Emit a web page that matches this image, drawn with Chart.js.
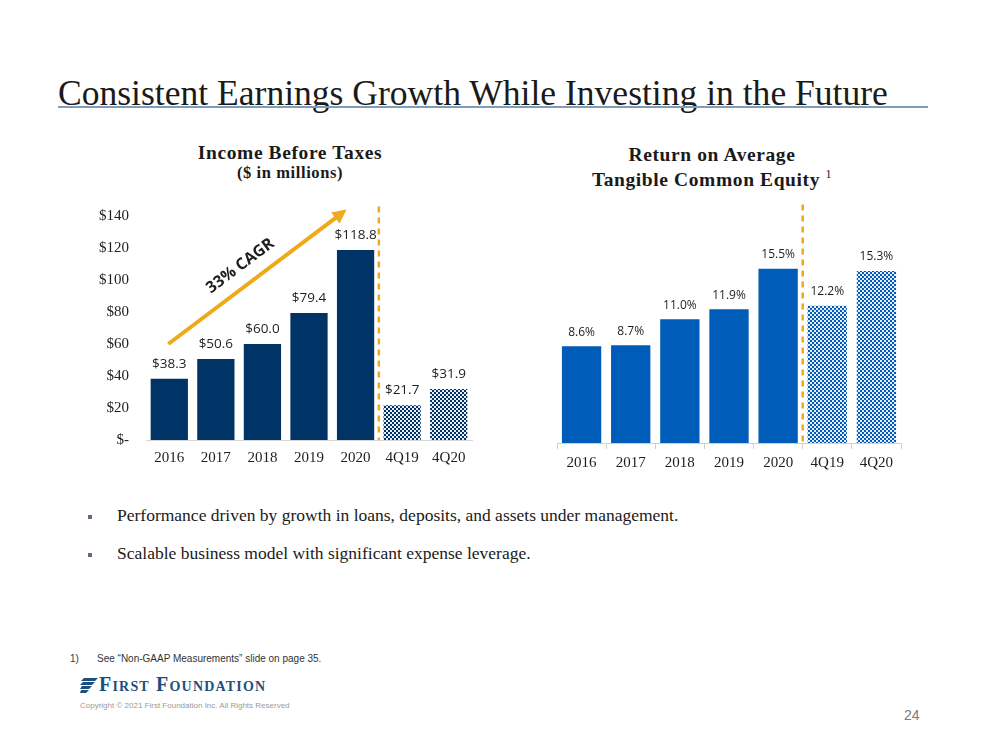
<!DOCTYPE html>
<html>
<head>
<meta charset="utf-8">
<script src="https://cdn.jsdelivr.net/npm/chart.js@4.4.1/dist/chart.umd.min.js"></script>
<style>
  body { margin: 0; width: 1000px; height: 750px; background: #fff; position: relative; overflow: hidden;
         font-family: "Liberation Serif", serif; color: #1a1a1a; }
  .abs { position: absolute; }
  #title { left: 58px; top: 76px; font-size: 35px; line-height: 35px; white-space: nowrap; transform-origin: 0 0; }
  #rule { left: 58px; top: 106px; width: 870px; height: 2px; background: #7d9dba; }
  .ctitle { font-weight: bold; text-align: center; white-space: nowrap; letter-spacing: 0.6px; }
  .bullet { left: 88px; width: 4px; height: 4px; background: #5b6b80; }
  .btext { left: 117px; font-size: 17.5px; white-space: nowrap; }
  canvas { position: absolute; }
</style>
</head>
<body>
<div id="title" class="abs">Consistent Earnings Growth While Investing in the Future</div>
<div id="rule" class="abs"></div>

<div class="abs ctitle" style="left:170px;width:240px;top:142px;font-size:19.5px;">Income Before Taxes</div>
<div class="abs ctitle" style="left:170px;width:240px;top:163px;font-size:16.5px;">($ in millions)</div>
<div class="abs ctitle" style="left:560px;width:304px;top:144px;font-size:19.5px;">Return on Average</div>
<div class="abs ctitle" style="left:560px;width:304px;top:167px;font-size:19.5px;">Tangible Common Equity <sup style="font-size:12px;font-weight:normal;">1</sup></div>

<canvas id="incomeChart" style="left:80px;top:190px;"></canvas>
<canvas id="rotceChart" style="left:540px;top:190px;"></canvas>

<div class="abs bullet" style="top:515px;"></div>
<div class="abs btext" style="top:505px;">Performance driven by growth in loans, deposits, and assets under management.</div>
<div class="abs bullet" style="top:553px;"></div>
<div class="abs btext" style="top:543px;">Scalable business model with significant expense leverage.</div>

<div class="abs" style="left:70px;top:653px;font:10px 'Liberation Sans',sans-serif;color:#333;">1)</div>
<div class="abs" style="left:97px;top:653px;font:10px 'Liberation Sans',sans-serif;color:#333;white-space:nowrap;">See “Non-GAAP Measurements” slide on page 35.</div>

<svg class="abs" style="left:80px;top:678px;" width="18" height="16" viewBox="0 0 18 16">
  <path d="M4 0 H18 L15 3 H1 Z" fill="#1d4f7c"/>
  <path d="M3 4 H15 L12 7 H0 Z" fill="#1d4f7c"/>
  <path d="M2 8 H12 L9 11 H0 Z" fill="#1d4f7c"/>
  <path d="M1 12 H9 L6 15 H0 Z" fill="#1d4f7c"/>
</svg>
<div class="abs" style="left:99px;top:673px;font-family:'Liberation Serif',serif;font-weight:bold;font-size:20px;font-variant:small-caps;color:#1d4f7c;white-space:nowrap;letter-spacing:1.2px;">First Foundation</div>
<div class="abs" style="left:80px;top:701px;font:8px 'Liberation Sans',sans-serif;color:#9a9a9a;white-space:nowrap;">Copyright © 2021 First Foundation Inc. All Rights Reserved</div>
<div class="abs" style="left:904px;top:707px;font:14px 'Liberation Sans',sans-serif;color:#7a7a7a;">24</div>

<script>
// ---- data ----
const periods = ['2016', '2017', '2018', '2019', '2020', '4Q19', '4Q20'];
const incomeValues = [38.3, 50.6, 60.0, 79.4, 118.8, 21.7, 31.9];   // $ millions
const rotceValues = [8.6, 8.7, 11.0, 11.9, 15.5, 12.2, 15.3];       // percent
const incomeTickStep = 20;
const incomeMax = 140;
const rotceMax = 20;
const cagrLabel = '33% CAGR';
const cagrFrom = 60;     // arrow start value, y axis
const cagrTo = 144;      // arrow end value, y axis
const annualCount = 5;   // first five bars are full years, rest are quarters

const navy = '#003466';
const blue = '#005cb9';
const gold = '#eeaa1a';

// fit title width like the slide
const t = document.getElementById('title');
t.style.transform = 'scaleX(' + (830 / t.offsetWidth) + ')';

function checker(ctx, color) {
  const pc = document.createElement('canvas');
  pc.width = 4; pc.height = 4;
  const p = pc.getContext('2d');
  p.fillStyle = '#e6edf7';
  p.fillRect(0, 0, 4, 4);
  p.fillStyle = color;
  p.fillRect(0, 0, 2, 2);
  p.fillRect(2, 2, 2, 2);
  return ctx.createPattern(pc, 'repeat');
}

function sizeCanvas(id, w, h) {
  const c = document.getElementById(id);
  c.width = w; c.height = h;
  c.style.width = w + 'px'; c.style.height = h + 'px';
  return c;
}

// value labels above bars
function valueLabels(fmt, font, gap) {
  return {
    id: 'valueLabels',
    afterDatasetsDraw(chart) {
      const ctx = chart.ctx;
      const meta = chart.getDatasetMeta(0);
      ctx.save();
      ctx.font = font;
      ctx.fillStyle = '#1e1e1e';
      ctx.textAlign = 'center';
      ctx.textBaseline = 'middle';
      meta.data.forEach((bar, i) => {
        ctx.fillText(fmt(chart.data.datasets[0].data[i]), bar.x, bar.y - gap);
      });
      ctx.restore();
    }
  };
}

// dashed divider between years and quarters
function divider(topValue) {
  return {
    id: 'divider',
    afterDraw(chart) {
      const x = chart.scales.x, y = chart.scales.y;
      const px = (x.getPixelForValue(annualCount - 1) + x.getPixelForValue(annualCount)) / 2;
      const ctx = chart.ctx;
      ctx.save();
      ctx.strokeStyle = gold;
      ctx.lineWidth = 2.5;
      ctx.setLineDash([6, 5]);
      ctx.beginPath();
      ctx.moveTo(px, y.getPixelForValue(topValue));
      ctx.lineTo(px, y.getPixelForValue(0));
      ctx.stroke();
      ctx.restore();
    }
  };
}

const cagrArrow = {
  id: 'cagrArrow',
  afterDraw(chart) {
    const x = chart.scales.x, y = chart.scales.y;
    const x0 = x.getPixelForValue(0) - 1, y0 = y.getPixelForValue(cagrFrom);
    const x1 = x.getPixelForValue(annualCount - 1) - 9, y1 = y.getPixelForValue(cagrTo);
    const ang = Math.atan2(y1 - y0, x1 - x0);
    const ctx = chart.ctx;
    ctx.save();
    ctx.strokeStyle = gold;
    ctx.fillStyle = gold;
    ctx.lineWidth = 4;
    const head = 14;
    ctx.beginPath();
    ctx.moveTo(x0, y0);
    ctx.lineTo(x1 - Math.cos(ang) * head * 0.8, y1 - Math.sin(ang) * head * 0.8);
    ctx.stroke();
    ctx.beginPath();
    ctx.moveTo(x1, y1);
    ctx.lineTo(x1 - head * Math.cos(ang) + 7 * Math.sin(ang), y1 - head * Math.sin(ang) - 7 * Math.cos(ang));
    ctx.lineTo(x1 - head * Math.cos(ang) - 7 * Math.sin(ang), y1 - head * Math.sin(ang) + 7 * Math.cos(ang));
    ctx.closePath();
    ctx.fill();
    // label
    const mx = (x0 + x1) / 2, my = (y0 + y1) / 2;
    const ux = Math.cos(ang), uy = Math.sin(ang);
    const tx = mx - 7 * ux + 19 * uy, ty = my - 7 * uy - 19 * ux;
    ctx.translate(tx, ty);
    ctx.rotate(ang);
    ctx.font = 'bold 16px "Open Sans", sans-serif';
    ctx.fillStyle = '#1e1e1e';
    ctx.textAlign = 'center';
    ctx.textBaseline = 'middle';
    ctx.fillText(cagrLabel, 0, 0);
    ctx.restore();
  }
};

const tickFont = { family: '"Liberation Serif", serif', size: 15 };

// ---- left chart: income before taxes ----
const c1 = sizeCanvas('incomeChart', 410, 300);
const ctx1 = c1.getContext('2d');
const navyPat = checker(ctx1, navy);

new Chart(ctx1, {
  type: 'bar',
  data: {
    labels: periods,
    datasets: [{
      data: incomeValues,
      backgroundColor: incomeValues.map((v, i) => i < annualCount ? navy : navyPat),
      barPercentage: 0.8,
      categoryPercentage: 1.0
    }]
  },
  options: {
    responsive: false,
    animation: false,
    // y tick labels add ~9px above the area on their own
    layout: { padding: { top: 12, right: 18, left: 0, bottom: 0 } },
    plugins: { legend: { display: false }, tooltip: { enabled: false } },
    scales: {
      x: {
        grid: { display: true, drawOnChartArea: false, drawTicks: false },
        border: { display: true, color: '#d6d6d6', width: 1 },
        ticks: { color: '#1e1e1e', font: tickFont, padding: 9 },
        afterFit: s => { s.height = 50; }
      },
      y: {
        min: 0, max: incomeMax,
        grid: { display: false, drawTicks: false },
        border: { display: false },
        ticks: {
          stepSize: incomeTickStep, color: '#1e1e1e', font: tickFont, padding: 17,
          callback: v => v === 0 ? '$-' : '$' + v
        },
        afterFit: s => { s.width = 66; }
      }
    }
  },
  plugins: [valueLabels(v => '$' + v.toFixed(1), '13.5px "Open Sans", sans-serif', 15), divider(146), cagrArrow]
});

// ---- right chart: ROATCE ----
const c2 = sizeCanvas('rotceChart', 380, 300);
const ctx2 = c2.getContext('2d');
const bluePat = checker(ctx2, blue);

new Chart(ctx2, {
  type: 'bar',
  data: {
    labels: periods,
    datasets: [{
      data: rotceValues,
      backgroundColor: rotceValues.map((v, i) => i < annualCount ? blue : bluePat),
      barPercentage: 0.8,
      categoryPercentage: 1.0
    }]
  },
  options: {
    responsive: false,
    animation: false,
    layout: { padding: { top: 28, right: 19, left: 17, bottom: 0 } },
    plugins: { legend: { display: false }, tooltip: { enabled: false } },
    scales: {
      x: {
        grid: { display: true, drawOnChartArea: false, drawTicks: true, tickLength: 6, offset: true, color: '#d0d0d0' },
        border: { display: true, color: '#d0d0d0', width: 1 },
        ticks: { color: '#1e1e1e', font: tickFont, padding: 5 },
        afterFit: s => { s.height = 47; }
      },
      y: {
        display: false,
        min: 0, max: rotceMax
      }
    }
  },
  plugins: [valueLabels(v => v.toFixed(1) + '%', '12px "Open Sans", sans-serif', 14), divider(21.2)]
});
</script>
</body>
</html>
